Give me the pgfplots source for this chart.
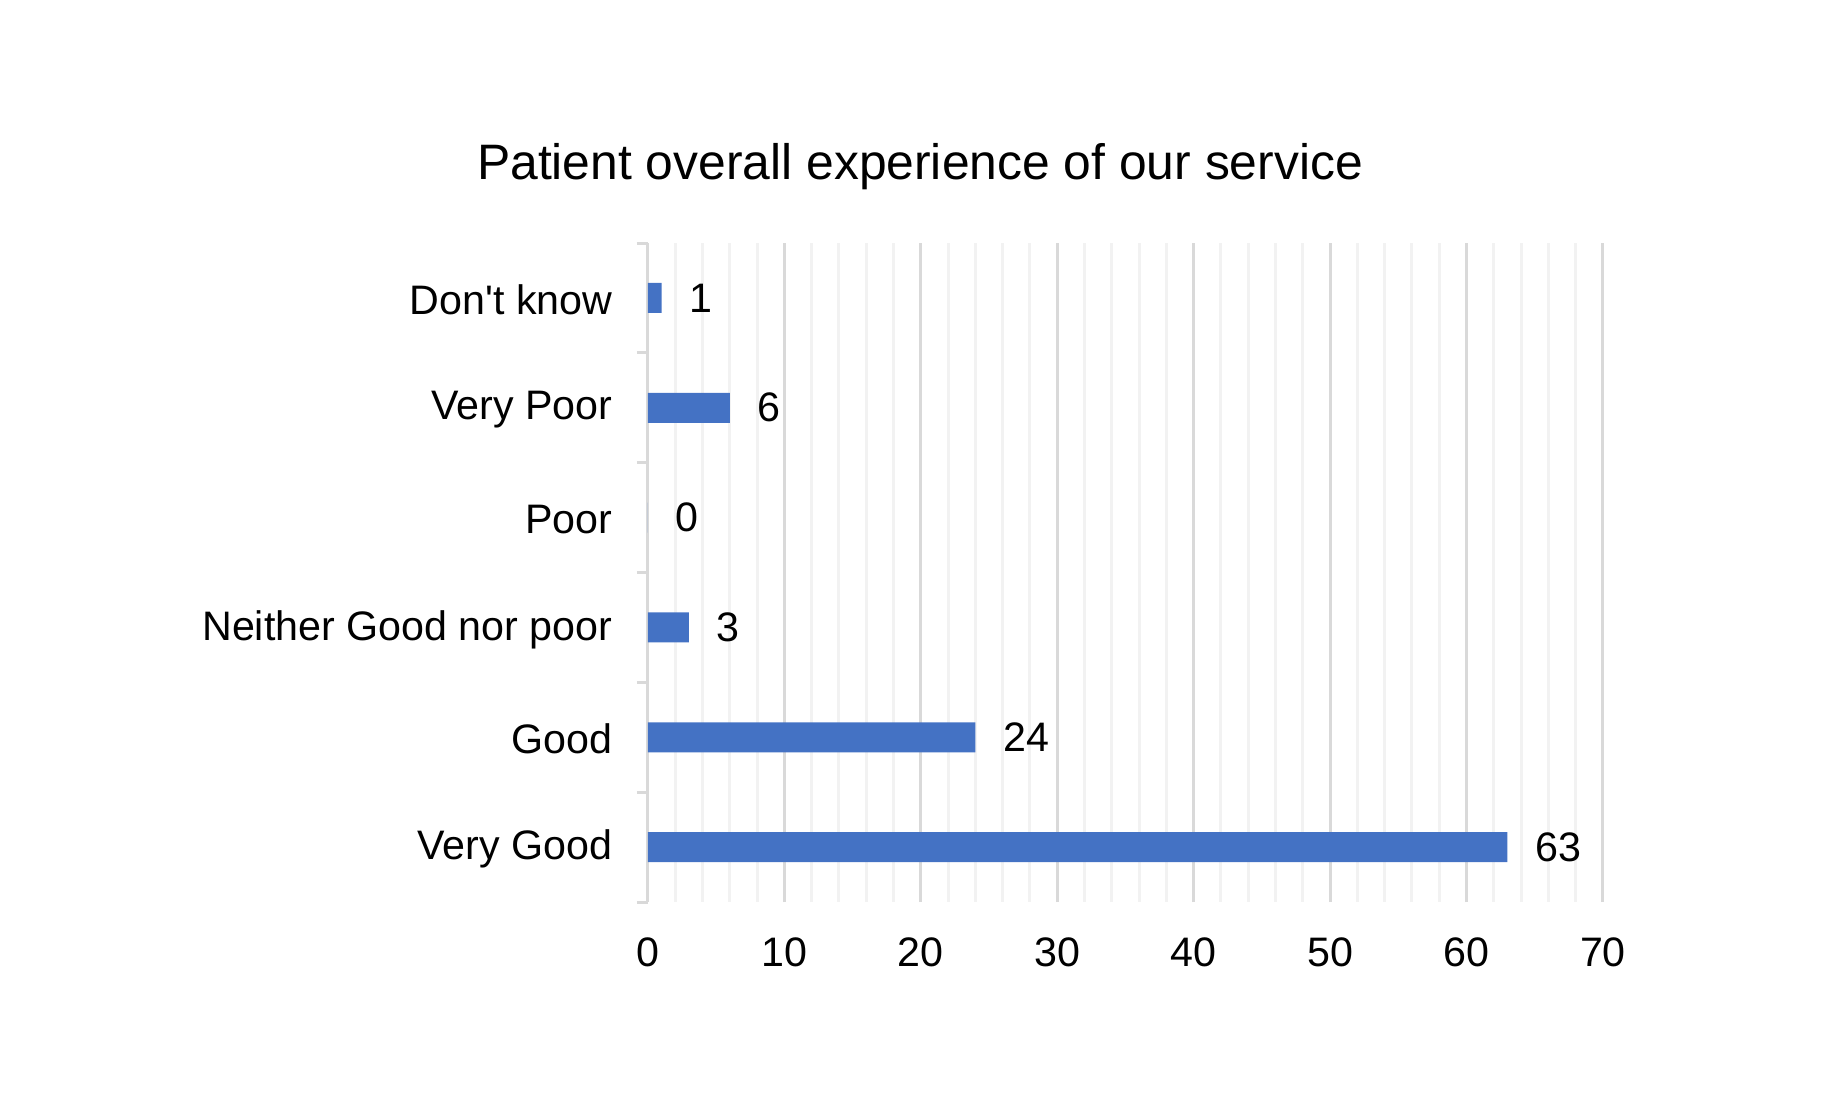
\documentclass[border=0pt]{standalone}
\usepackage{pgfplots}
\pgfplotsset{compat=1.18}
\usepackage{fontspec}
\setmainfont{Liberation Sans}
\definecolor{barblue}{HTML}{4472C4}
\definecolor{gridmaj}{HTML}{D9D9D9}
\definecolor{gridmin}{HTML}{F2F2F2}
\begin{document}
\fontsize{10.3bp}{12bp}\selectfont
\begin{tikzpicture}
\path[use as bounding box] (-162bp,-48.25bp) rectangle (298.5bp,225.5bp);
\begin{axis}[
    at={(0,0)}, anchor=south west,
    scale only axis, width=238.75bp, height=164.75bp,
    xbar, bar width=7.5bp,
    xmin=0, xmax=70, ymin=-0.5, ymax=5.5,
    xtick={0,10,...,70}, minor x tick num=4,
    xmajorgrids, xminorgrids,
    major grid style={gridmaj, line width=0.75bp},
    minor grid style={gridmin, line width=0.75bp},
    ytick={0,...,5},
    yticklabels={Very Good, Good, Neither Good nor poor, Poor, Very Poor, Don\textquotesingle t know},
    minor ytick={-0.5,0.5,...,5.5},
    axis y line*=left, axis x line*=bottom,
    x axis line style={draw=none},
    y axis line style={draw=gridmaj, line width=0.75bp},
    major tick length=0pt, minor tick length=2.75bp,
    tick align=outside,
    xtick style={draw=none},
    ytick style={gridmaj, line width=0.75bp},
    xticklabel style={yshift=-5.2bp},
    yticklabel style={xshift=-5.3bp, yshift=-0.5bp},
    /pgf/number format/assume math mode=true,
    ticklabel style={font=\fontsize{10.3bp}{12bp}\selectfont},
    nodes near coords,
    every node near coord/.append style={black, xshift=3.3bp, font=\fontsize{10.3bp}{12bp}\selectfont},
  ]
  \addplot[fill=barblue, draw=none] coordinates {(63,0) (24,1) (3,2) (0,3) (6,4) (1,5)};
\end{axis}
\node[anchor=base, font=\fontsize{12.45bp}{14bp}\selectfont] at (68bp,180.5bp) {Patient overall experience of our service};
\end{tikzpicture}
\end{document}
